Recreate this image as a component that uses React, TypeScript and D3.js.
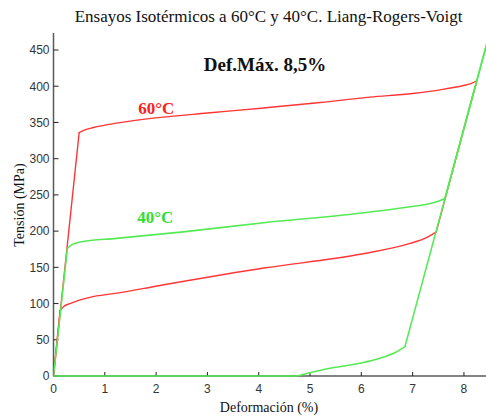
import React from "react";
import * as d3 from "d3";

// Stress–strain loops, Liang-Rogers-Voigt model
const red60Strain = [0, 0.5, 0.6, 0.78, 1.23, 2.08, 3.0, 4.1, 5.2, 6.17, 7.0, 7.53, 7.99, 8.15, 8.25, 7.46, 7.27, 6.95, 5.97, 4.1, 2.08, 1.2, 0.71, 0.32, 0.2, 0.127, 0];
const red60Stress = [0, 336, 339.5, 343, 349, 357, 363, 370, 377.5, 385, 390, 395, 401, 404, 407.6, 199, 191, 183, 168, 149, 125, 114, 108.6, 100, 96, 90, 0];

const green40Strain = [0, 0.27, 0.35, 0.52, 1.23, 2.53, 4.1, 5.97, 6.95, 7.3, 7.47, 7.63, 8.5, 6.85, 6.69, 6.36, 5.97, 5.39, 5.0, 4.71, 0];
const green40Stress = [0, 176, 181, 185, 190, 199, 211.6, 224.6, 233.7, 237.5, 240.6, 245, 473, 40.5, 33.5, 24.4, 17.5, 10.6, 4.6, 0, 0];

const xTicks = [0, 1, 2, 3, 4, 5, 6, 7, 8];
const yTicks = [0, 50, 100, 150, 200, 250, 300, 350, 400, 450];

const titleText = "Ensayos Isotérmicos a 60°C y 40°C. Liang-Rogers-Voigt";
const xLabel = "Deformación (%)";
const yLabel = "Tensión (MPa)";
const noteText = "Def.Máx. 8,5%";
const label60 = "60°C";
const label40 = "40°C";

const W = 486;
const H = 419;

type Pt = [number, number];

// Break a loop into pieces: steep elastic pieces stay straight, the
// transformation plateaus are smoothed. Each piece is returned in
// increasing-strain order for curveMonotoneX.
function pieces(strain: number[], stress: number[]): { pts: Pt[]; elastic: boolean }[] {
  const pts: Pt[] = strain.map((s, i) => [s, stress[i]]);
  const out: { pts: Pt[]; elastic: boolean }[] = [];
  let cur: Pt[] = [pts[0]];
  let curKey = "";
  for (let i = 1; i < pts.length; i++) {
    const dx = pts[i][0] - pts[i - 1][0];
    const dy = pts[i][1] - pts[i - 1][1];
    const elastic = Math.abs(dy) > 100 * Math.abs(dx);
    const key = `${elastic}-${Math.sign(dx)}`;
    if (curKey && key !== curKey) {
      out.push({ pts: cur, elastic: curKey.startsWith("true") });
      cur = [pts[i - 1]];
    }
    curKey = key;
    cur.push(pts[i]);
  }
  out.push({ pts: cur, elastic: curKey.startsWith("true") });
  return out.map((p) => ({
    elastic: p.elastic,
    pts: p.pts[p.pts.length - 1][0] < p.pts[0][0] ? p.pts.slice().reverse() : p.pts,
  }));
}

export default function App() {
  const x = d3.scaleLinear().domain([0, 8.5]).range([53.5, 489.6]);
  const y = d3.scaleLinear().domain([0, 475]).range([376, 31.9]);

  const smooth = d3
    .line<Pt>()
    .x((d) => x(d[0]))
    .y((d) => y(d[1]))
    .curve(d3.curveMonotoneX);
  const straight = d3
    .line<Pt>()
    .x((d) => x(d[0]))
    .y((d) => y(d[1]));

  const redPieces = pieces(red60Strain, red60Stress);
  const greenPieces = pieces(green40Strain, green40Stress);

  const serif = "'Liberation Serif', 'Times New Roman', serif";
  const sans = "'Liberation Sans', Arial, sans-serif";
  const axisColor = "#5a5a5a";

  return (
    <svg
      width={W}
      height={H}
      style={{ position: "absolute", left: 0, top: 0, background: "#fff" }}
    >
      <rect x={0} y={0} width={W} height={H} fill="#fff" />
      <text x={268.5} y={22} textAnchor="middle" fontFamily={serif} fontSize={17} fill="#111">
        {titleText}
      </text>

      <defs>
        <clipPath id="plotClip">
          <rect x={x(0)} y={0} width={W} height={y(0) + 2} />
        </clipPath>
      </defs>

      {/* axes */}
      <line x1={x(0)} y1={y(0)} x2={x(0)} y2={33} stroke={axisColor} strokeWidth={1.5} />
      <line x1={x(0)} y1={y(0)} x2={W} y2={y(0)} stroke={axisColor} strokeWidth={1.5} />
      {yTicks.map((t) => (
        <g key={"y" + t}>
          <line x1={x(0)} x2={x(0) + 5} y1={y(t)} y2={y(t)} stroke="#222" strokeWidth={1} />
          <text
            x={x(0) - 4}
            y={y(t)}
            dy="0.36em"
            textAnchor="end"
            fontFamily={sans}
            fontSize={12}
            fill="#333"
          >
            {t}
          </text>
        </g>
      ))}
      {xTicks.map((t) => (
        <g key={"x" + t}>
          <line x1={x(t)} x2={x(t)} y1={y(0)} y2={y(0) - 4} stroke="#222" strokeWidth={1} />
          <text x={x(t)} y={393} textAnchor="middle" fontFamily={sans} fontSize={12} fill="#333">
            {t}
          </text>
        </g>
      ))}

      <text x={269} y={412} textAnchor="middle" fontFamily={serif} fontSize={14} fill="#111">
        {xLabel}
      </text>
      <text
        transform={`translate(24, 205) rotate(-90)`}
        textAnchor="middle"
        fontFamily={serif}
        fontSize={14}
        fill="#111"
      >
        {yLabel}
      </text>

      <g clipPath="url(#plotClip)" fill="none" strokeLinejoin="round" strokeLinecap="round">
        {redPieces.map((p, i) => (
          <path
            key={"r" + i}
            d={(p.elastic ? straight(p.pts) : smooth(p.pts)) ?? ""}
            stroke="#ff3636"
            strokeWidth={1.4}
          />
        ))}
        {greenPieces.map((p, i) => (
          <path
            key={"g" + i}
            d={(p.elastic ? straight(p.pts) : smooth(p.pts)) ?? ""}
            stroke="#55ea55"
            strokeWidth={1.6}
          />
        ))}
      </g>

      <text x={x(2.93)} y={y(421)} fontFamily={serif} fontSize={19} fontWeight="bold" fill="#111">
        {noteText}
      </text>
      <text x={x(1.65)} y={y(362)} fontFamily={serif} fontSize={17} fontWeight="bold" fill="#ff2020">
        {label60}
      </text>
      <text x={x(1.63)} y={y(211)} fontFamily={serif} fontSize={17} fontWeight="bold" fill="#33dd33">
        {label40}
      </text>
    </svg>
  );
}
